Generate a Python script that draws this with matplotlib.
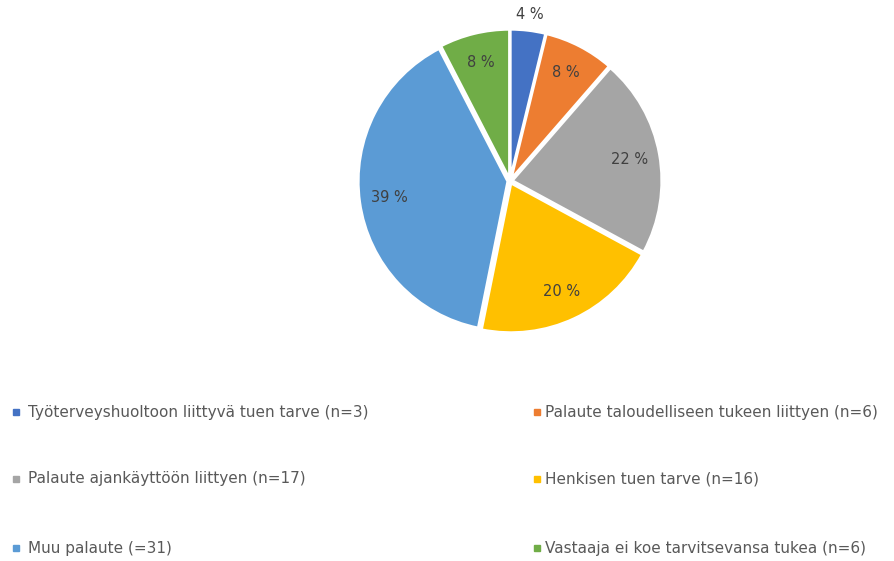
import matplotlib
matplotlib.use('Agg')
import matplotlib.pyplot as plt
from matplotlib.patches import Rectangle

# palautteet luokittain
labels = ['Työterveyshuoltoon liittyvä tuen tarve (n=3)',
          'Palaute taloudelliseen tukeen liittyen (n=6)',
          'Palaute ajankäyttöön liittyen (n=17)',
          'Henkisen tuen tarve (n=16)',
          'Muu palaute (=31)',
          'Vastaaja ei koe tarvitsevansa tukea (n=6)']
counts = [3, 6, 17, 16, 31, 6]
colors = ['#4472C4', '#ED7D31', '#A5A5A5', '#FFC000', '#5B9BD5', '#70AD47']

plt.rcParams['font.family'] = ['DejaVu Sans']
fig = plt.figure(figsize=(8.95, 5.61), dpi=100)
ax = fig.add_axes([0.381, 0.376, 0.3777, 0.6025])

wedges, texts, pcts = ax.pie(counts, colors=colors, startangle=90, counterclock=False,
                             explode=[0.015] * len(counts),
                             autopct=lambda p: '%d %%' % round(p),
                             pctdistance=0.8,
                             wedgeprops=dict(edgecolor='white', linewidth=2),
                             textprops=dict(color='#404040', fontsize=10.5))
# pieni siivu: prosentti ulkopuolelle
x, y = pcts[0].get_position()
pcts[0].set_position((x * 1.38, y * 1.38))
ax.set_xlim(-1.13, 1.13)
ax.set_ylim(-1.13, 1.13)
ax.set_aspect('equal')
ax.axis('off')

# selite kahdessa sarakkeessa
mark_x = [13, 534]
text_x = [28, 545]
row_y = [412, 479, 548]
W, H = 895.0, 561.0
for i, (lab, c) in enumerate(zip(labels, colors)):
    col = i % 2
    py = row_y[i // 2]
    fig.patches.append(Rectangle((mark_x[col] / W, 1 - (py + 3) / H), 6 / W, 6 / H,
                                 transform=fig.transFigure, color=c, figure=fig))
    fig.text(text_x[col] / W, 1 - py / H, lab, fontsize=11, color='#595959',
             va='center', ha='left')

fig.savefig('out.png', dpi=100)
